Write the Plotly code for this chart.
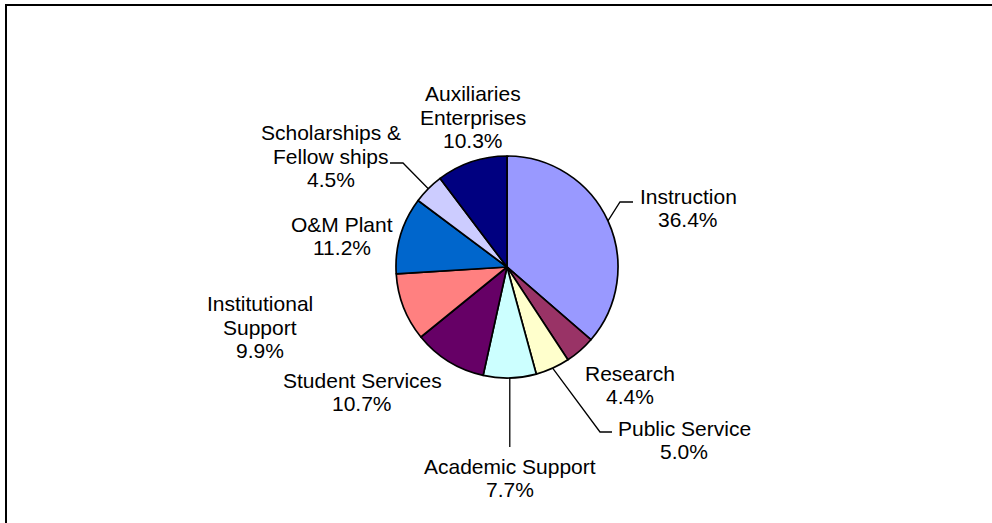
import math
import plotly.graph_objects as go

W, H = 992, 523

# ---- data ----
categories = ["Instruction", "Research", "Public Service", "Academic Support",
              "Student Services", "Institutional Support", "O&M Plant",
              "Scholarships & Fellow ships", "Auxiliaries Enterprises"]
label_lines = [["Instruction"], ["Research"], ["Public Service"], ["Academic Support"],
               ["Student Services"], ["Institutional", "Support"], ["O&M Plant"],
               ["Scholarships &", "Fellow ships"], ["Auxiliaries", "Enterprises"]]
values = [36.4, 4.4, 5.0, 7.7, 10.7, 9.9, 11.2, 4.5, 10.3]
colors = ["#9999FF", "#993366", "#FFFFCC", "#CCFFFF", "#660066",
          "#FF8080", "#0066CC", "#CCCCFF", "#000080"]

# ---- layout (pixel positions of label block centres) ----
label_pos = [(688, 208), (630, 385), (684, 440), (510, 478), (362, 392),
             (260, 327), (342, 236), (331, 156), (473, 117)]
LINE_H = 23.5
# leader lines: index -> list of knee/end pixel points after the pie edge
leaders = {0: [(620, 202), (633, 202)],
           2: [(600, 432), (612, 432)],
           3: [(None, 447)],
           7: [(403, 163), (390, 163)]}

cx, cy, R = 507, 267, 111


def px(x):
    return x / W


def py(y):
    return 1 - y / H


fig = go.Figure(go.Pie(
    labels=categories, values=values, sort=False, direction="clockwise",
    rotation=0, textinfo="none", hoverinfo="label+percent",
    marker=dict(colors=colors, line=dict(color="#000000", width=1.7)),
    domain=dict(x=[px(cx - R), px(cx + R)], y=[py(cy + R), py(cy - R)]),
    showlegend=False,
))

font = dict(family="Liberation Sans, Arial, sans-serif", size=21, color="#000000")
annotations = []
for i, (lines, v) in enumerate(zip(label_lines, values)):
    x, y = label_pos[i]
    all_lines = lines + [f"{v:.1f}%"]
    n = len(all_lines)
    for k, t in enumerate(all_lines):
        ly = y + (k - (n - 1) / 2) * LINE_H
        annotations.append(dict(
            x=px(x), y=py(ly), xref="paper", yref="paper", showarrow=False,
            text=t, align="center", xanchor="center", yanchor="middle",
            font=font))

# leader lines starting at the mid-angle of each slice on the pie edge
total = sum(values)
shapes = []
cum = 0.0
mids = []
for v in values:
    mids.append((cum + v / 2) / total * 2 * math.pi)
    cum += v
for i, pts in leaders.items():
    a = mids[i]
    sx, sy = cx + R * math.sin(a), cy - R * math.cos(a)
    path = f"M {px(sx)} {py(sy)}"
    for (x, y) in pts:
        if x is None:
            x = sx
        path += f" L {px(x)} {py(y)}"
    shapes.append(dict(type="path", path=path, xref="paper", yref="paper",
                       line=dict(color="#000000", width=1.3)))

# chart frame
shapes.append(dict(type="rect", xref="paper", yref="paper",
                   x0=px(6), y0=py(H + 20), x1=px(W + 20), y1=py(5),
                   line=dict(color="#000000", width=2), fillcolor="rgba(0,0,0,0)"))

fig.update_layout(
    width=W, height=H, margin=dict(l=0, r=0, t=0, b=0),
    paper_bgcolor="#FFFFFF", plot_bgcolor="#FFFFFF",
    annotations=annotations, shapes=shapes, font=font,
)

fig.write_html("out.html", config={"displayModeBar": False},
               post_script="document.body.style.margin='0';document.body.style.overflow='hidden';")
